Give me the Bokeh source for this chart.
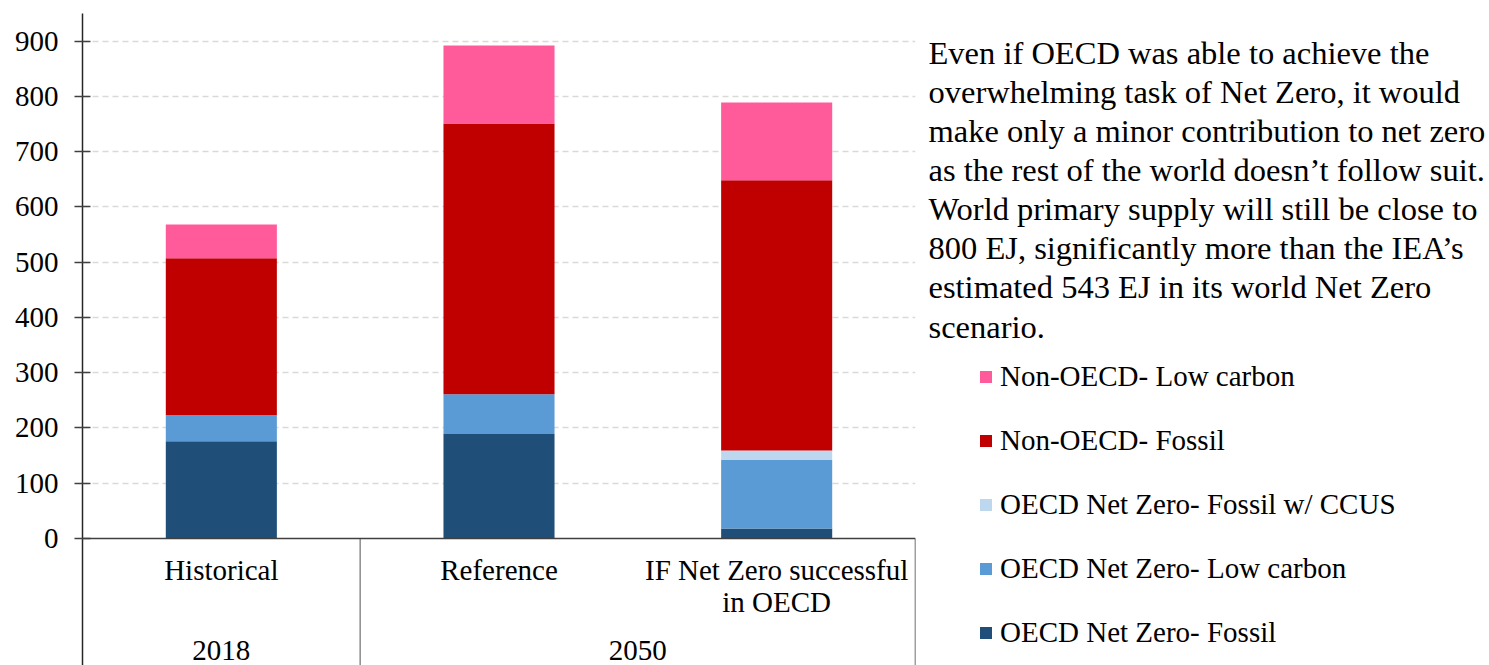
from bokeh.plotting import figure
from bokeh.layouts import row
from bokeh.models import FactorRange, Range1d, Span, Legend, LegendItem, FixedTicker, ColumnDataSource
from bokeh.core.properties import value
from bokeh.embed import file_html
from bokeh.resources import INLINE

# ---------------- data ----------------
categories = ["Historical", "Reference", "IF Net Zero successful\nin OECD"]
groups = ["2018", "2050", "2050"]

oecd_fossil = [176, 189, 18]
oecd_low_carbon = [47, 72, 124]
oecd_fossil_ccus = [0, 0, 17]
non_oecd_fossil = [284, 490, 489]
non_oecd_low_carbon = [61, 141, 141]

series_keys = ["oecd_fossil", "oecd_low_carbon", "oecd_fossil_ccus", "non_oecd_fossil", "non_oecd_low_carbon"]
series_names = ["OECD Net Zero- Fossil", "OECD Net Zero- Low carbon", "OECD Net Zero- Fossil w/ CCUS",
                "Non-OECD- Fossil", "Non-OECD- Low carbon"]
series_colors = ["#1F4E79", "#5B9BD5", "#BDD7EE", "#C00000", "#FF5B9B"]

y_ticks = [0, 100, 200, 300, 400, 500, 600, 700, 800, 900]

paragraph = [
    "Even if OECD was able to achieve the",
    "overwhelming task of Net Zero, it would",
    "make only a minor contribution to net zero",
    "as the rest of the world doesn\u2019t follow suit.",
    "World primary supply will still be close to",
    "800 EJ, significantly more than the IEA\u2019s",
    "estimated 543 EJ in its world Net Zero",
    "scenario.",
]

FONT = "Liberation Serif"
FS = "29px"
FS_PARA = "32.5px"

source = ColumnDataSource(dict(
    cat=categories,
    oecd_fossil=oecd_fossil,
    oecd_low_carbon=oecd_low_carbon,
    oecd_fossil_ccus=oecd_fossil_ccus,
    non_oecd_fossil=non_oecd_fossil,
    non_oecd_low_carbon=non_oecd_low_carbon,
))

H = 665
W1 = 917
W2 = 1489 - W1
Y0, Y1 = -230, 950

# ---------------- chart ----------------
p = figure(
    width=W1, height=H,
    x_range=FactorRange(factors=categories, range_padding=0),
    y_range=Range1d(Y0, Y1),
    x_axis_location=None,
    output_backend="svg", toolbar_location=None,
    min_border_left=82, min_border_right=2, min_border_top=13, min_border_bottom=0,
)
p.outline_line_color = None

yax = p.yaxis[0]
yax.ticker = FixedTicker(ticks=y_ticks)
yax.major_tick_in = 8
yax.major_tick_out = 8
yax.minor_tick_line_color = None
yax.axis_line_color = "#262626"
yax.axis_line_width = 1.5
yax.major_tick_line_color = "#404040"
yax.major_tick_line_width = 1.5
yax.major_label_text_font = FONT
yax.major_label_text_font_size = FS
yax.major_label_text_color = "black"
yax.major_label_standoff = 16

p.xgrid.visible = False
p.ygrid.ticker = FixedTicker(ticks=y_ticks[1:])
p.ygrid.grid_line_color = "#D9D9D9"
p.ygrid.grid_line_dash = "6 4"
p.ygrid.grid_line_width = 1.5

renderers = p.vbar_stack(series_keys, x="cat", width=0.4, color=series_colors,
                         line_color=None, source=source)

p.add_layout(Span(location=0, dimension="width", line_color="#404040", line_width=1.5))

# separators between category groups (grey) and at the right end (dark)
bounds = [i for i in range(1, len(groups)) if groups[i] != groups[i - 1]]
p.segment(x0=bounds, x1=bounds, y0=[0] * len(bounds), y1=[Y0] * len(bounds),
          line_color="#8C8C8C", line_width=1.5)
p.segment(x0=[len(groups)], x1=[len(groups)], y0=[0], y1=[Y0],
          line_color="#404040", line_width=1.5)

px_per_unit = (H - 13) / float(Y1 - Y0)
line_step = 32 / px_per_unit
for c in categories:
    for j, line in enumerate(c.split("\n")):
        p.text(x=[c], y=[-58 - j * line_step], text=[line], text_align="center",
               text_baseline="alphabetic", text_font=value(FONT), text_font_size=FS,
               text_color="black")

uniq = []
for g in groups:
    if g not in uniq:
        uniq.append(g)
for g in uniq:
    idx = [i for i, gg in enumerate(groups) if gg == g]
    xc = (min(idx) + max(idx) + 1) / 2.0
    p.text(x=[xc], y=[-203], text=[g], text_align="center", text_baseline="alphabetic",
           text_font=value(FONT), text_font_size=FS, text_color="black")

# ---------------- commentary + legend panel ----------------
q = figure(width=W2, height=H, x_range=Range1d(0, W2), y_range=Range1d(0, H),
           x_axis_location=None, y_axis_location=None, output_backend="svg",
           toolbar_location=None, min_border=0)
q.outline_line_color = None
q.grid.visible = False

for i, line in enumerate(paragraph):
    q.text(x=[11], y=[H - 40 - i * 39.9], text=[line], text_align="left",
           text_baseline="alphabetic", text_font=value(FONT), text_font_size=FS_PARA,
           text_color="black")

# legend proxies (zero-height, outside the visible range)
proxies = [q.vbar(x=[-1000], top=[0], bottom=[0], width=1, fill_color=c, line_color=None)
           for c in series_colors]
items = [LegendItem(label=n, renderers=[r]) for n, r in zip(series_names, proxies)]
legend = Legend(items=list(reversed(items)), location=(61, 16),
                label_text_font=FONT, label_text_font_size=FS, label_text_color="black",
                glyph_width=15, glyph_height=15, label_height=20, spacing=31,
                padding=0, margin=0, border_line_color=None, background_fill_alpha=0,
                label_standoff=7)
q.add_layout(legend)

layout = row(p, q, spacing=0)
open("out.html", "w").write(file_html(layout, INLINE))
